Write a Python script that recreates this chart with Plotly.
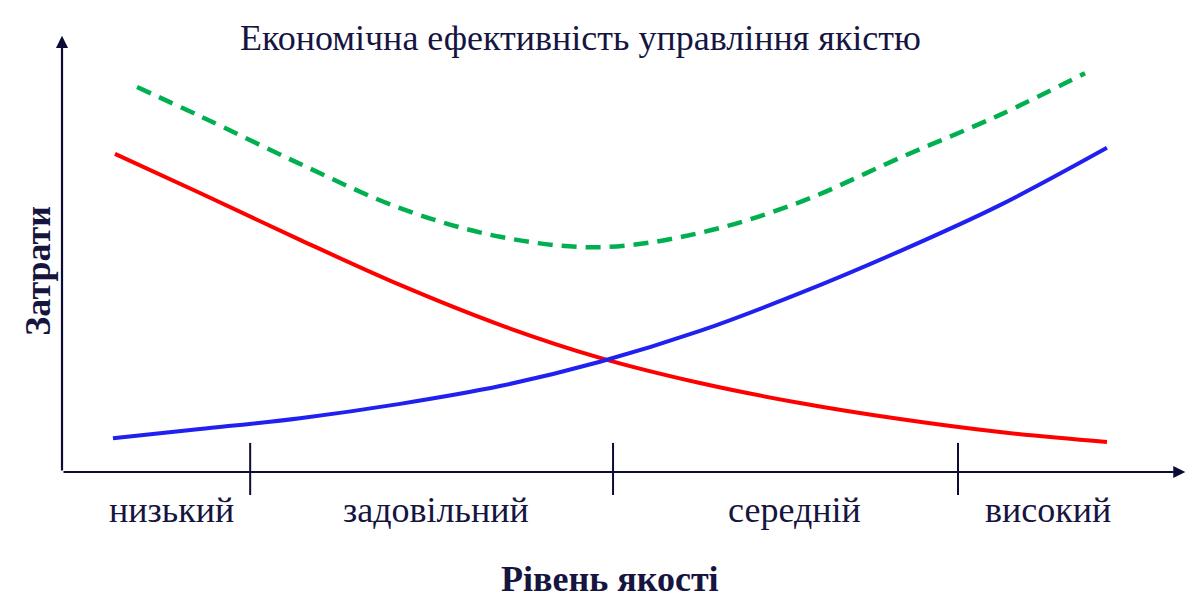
import plotly.graph_objects as go

# ---- data (quality level 0..100, cost 0..100) ----
red_x = [4.73, 12.32, 21.25, 30.18, 39.11, 48.04, 56.96, 65.89, 74.82, 83.75, 93.30]
red_y = [73.3, 64.3, 53.5, 43.1, 33.9, 26.3, 20.5, 15.9, 12.2, 9.2, 6.9]

blue_x = [4.55, 12.32, 21.25, 30.18, 39.11, 48.04, 56.96, 65.89, 74.82, 83.75, 93.30]
blue_y = [7.8, 9.9, 12.4, 15.7, 19.8, 25.4, 32.5, 41.2, 50.9, 61.5, 74.7]

green_x = [6.70, 12.32, 21.25, 30.18, 39.11, 48.04, 56.96, 65.89, 74.82, 83.75, 91.34]
green_y = [88.7, 82.0, 71.0, 60.8, 54.2, 51.8, 55.1, 62.2, 72.4, 82.3, 91.9]

level_bounds = [16.8, 49.2, 80.0]
level_labels = ["низький", "задовільний", "середній", "високий"]
level_label_x = [9.8, 33.4, 65.4, 88.0]

title_text = "Економічна ефективність управління якістю"
x_title = "Рівень якості"
y_title = "Затрати"

NAVY = "#0c0c36"
TXT = "#15153f"
SERIF = "Liberation Serif, Times New Roman, serif"
FS = 36

fig = go.Figure()
fig.add_trace(go.Scatter(x=green_x, y=green_y, mode="lines",
                         line=dict(color="#00b050", width=4.5, dash="15px,9px", shape="spline")))
fig.add_trace(go.Scatter(x=red_x, y=red_y, mode="lines",
                         line=dict(color="#ff0000", width=4, shape="spline")))
fig.add_trace(go.Scatter(x=blue_x, y=blue_y, mode="lines",
                         line=dict(color="#2020f0", width=4, shape="spline")))

# axes with arrows
fig.add_annotation(x=100.3, y=0, ax=0, ay=0, xref="x", yref="y", axref="x", ayref="y",
                   showarrow=True, arrowhead=2, arrowsize=1.1, arrowwidth=2.2, arrowcolor=NAVY, text="")
fig.add_annotation(x=0, y=100.5, ax=0, ay=0, xref="x", yref="y", axref="x", ayref="y",
                   showarrow=True, arrowhead=2, arrowsize=1.1, arrowwidth=2.2, arrowcolor=NAVY, text="")

for b in level_bounds:
    fig.add_shape(type="line", x0=b, x1=b, y0=6.7, y1=-5.3, xref="x", yref="y",
                  line=dict(color=NAVY, width=2))

for lx, lt in zip(level_label_x, level_labels):
    fig.add_annotation(x=lx, y=-8.8, xref="x", yref="y", text=lt, showarrow=False,
                       font=dict(family=SERIF, size=FS, color=TXT))

fig.add_annotation(x=46.3, y=100.0, xref="x", yref="y", text=title_text, showarrow=False,
                   font=dict(family=SERIF, size=FS, color=TXT))
fig.add_annotation(x=48.9, y=-24.6, xref="x", yref="y", text="<b>" + x_title + "</b>", showarrow=False,
                   font=dict(family=SERIF, size=FS, color=TXT))
fig.add_annotation(x=-2.1, y=46.5, xref="x", yref="y", text="<b>" + y_title + "</b>", showarrow=False,
                   textangle=-90, font=dict(family=SERIF, size=FS, color=TXT))

fig.update_layout(
    width=1197, height=609,
    margin=dict(l=0, r=0, t=0, b=0),
    paper_bgcolor="white", plot_bgcolor="white",
    showlegend=False,
    xaxis=dict(range=[-5.536, 101.34], visible=False, fixedrange=True),
    yaxis=dict(range=[-31.57, 108.76], visible=False, fixedrange=True),
)

fig.write_html("out.html", config={"displayModeBar": False},
               post_script="document.body.style.margin='0';")
